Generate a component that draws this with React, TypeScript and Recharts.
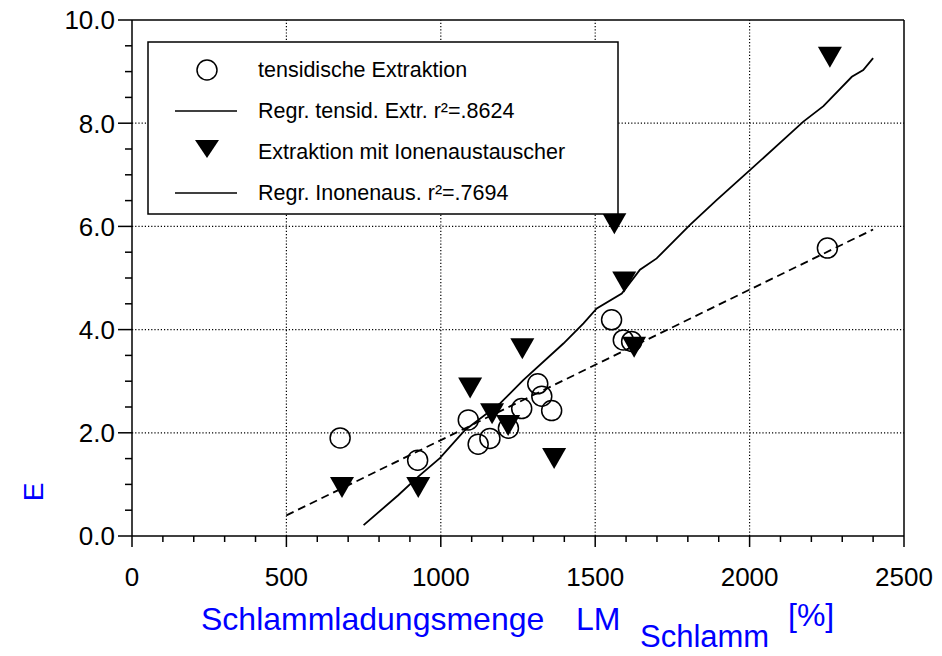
import { ScatterChart, Scatter, XAxis, YAxis, ReferenceLine } from 'recharts';

const FONT = "Arial, 'Liberation Sans', sans-serif";

// tensidische Extraktion (circles)
const tensX = [674, 925, 1089, 1121, 1159, 1219, 1262, 1314, 1327, 1359, 1553, 1591, 1618, 2252];
const tensY = [1.9, 1.47, 2.25, 1.78, 1.89, 2.09, 2.47, 2.95, 2.71, 2.43, 4.19, 3.8, 3.77, 5.58];

// Extraktion mit Ionenaustauscher (triangles)
const ionX = [680, 927, 1095, 1166, 1218, 1264, 1367, 1562, 1594, 1626, 2260];
const ionY = [0.95, 0.95, 2.88, 2.38, 2.15, 3.64, 1.51, 6.06, 4.93, 3.67, 9.29];

// regression curves
const tensRegX = [500, 2400];
const tensRegY = [0.4, 5.94];
const ionRegX = [750, 862, 927, 997, 1078, 1192, 1267, 1397, 1462, 1505, 1586, 1645, 1699, 1807, 1893, 2001, 2174, 2239, 2331, 2368, 2400];
const ionRegY = [0.21, 0.79, 1.15, 1.51, 2.05, 2.57, 3.02, 3.73, 4.12, 4.41, 4.7, 5.16, 5.38, 6.03, 6.51, 7.09, 8.03, 8.33, 8.9, 9.03, 9.26];

// axes
const xTicks = [0, 100, 200, 300, 400, 500, 600, 700, 800, 900, 1000, 1100, 1200, 1300, 1400, 1500, 1600, 1700, 1800, 1900, 2000, 2100, 2200, 2300, 2400, 2500];
const yTicks = [0, 0.5, 1, 1.5, 2, 2.5, 3, 3.5, 4, 4.5, 5, 5.5, 6, 6.5, 7, 7.5, 8, 8.5, 9, 9.5, 10];
const xGrid = [500, 1000, 1500, 2000];
const yGrid = [2, 4, 6, 8];

const toPoints = (xs: number[], ys: number[]) => xs.map((x, i) => ({ x, y: ys[i] }));

const tensData = toPoints(tensX, tensY);
const ionData = toPoints(ionX, ionY);
const tensReg = toPoints(tensRegX, tensRegY);
const ionReg = toPoints(ionRegX, ionRegY);

const XTick = ({ x, y, payload }: any) => {
  const v = payload.value;
  const major = v % 500 === 0;
  return (
    <g>
      <line x1={x} y1={y} x2={x} y2={y + (major ? 11 : 6)} stroke="#000" strokeWidth={1.5} />
      {major && (
        <text x={x} y={y + 49.5} textAnchor="middle" fontSize={26} fontFamily={FONT} fill="#000">
          {v}
        </text>
      )}
    </g>
  );
};

const YTick = ({ x, y, payload }: any) => {
  const v = payload.value;
  const major = v % 2 === 0;
  return (
    <g>
      <line x1={x} y1={y} x2={x - (major ? 14 : 7)} y2={y} stroke="#000" strokeWidth={1.5} />
      {major && (
        <text x={x - 17} y={y} dy="0.36em" textAnchor="end" fontSize={26} fontFamily={FONT} fill="#000">
          {v.toFixed(1)}
        </text>
      )}
    </g>
  );
};

const Triangle = ({ cx, cy }: any) => (
  <polygon points={`${cx - 12},${cy - 10} ${cx + 12},${cy - 10} ${cx},${cy + 11}`} fill="#000" />
);

const Ring = ({ cx, cy }: any) => (
  <circle cx={cx} cy={cy} r={10} fill="none" stroke="#000" strokeWidth={1.5} />
);

const NoShape = () => <g />;

export default function App() {
  return (
    <div style={{ position: 'absolute', left: 0, top: 0, width: 942, height: 656, background: '#fff', fontFamily: FONT }}>
      <ScatterChart width={942} height={656} margin={{ top: 20, right: 38, left: 0, bottom: 0 }}>
        <XAxis
          type="number"
          dataKey="x"
          domain={[0, 2500]}
          ticks={xTicks}
          interval={0}
          height={120}
          tickSize={0}
          tickMargin={0}
          tickLine={false}
          axisLine={{ stroke: '#000', strokeWidth: 1.5 }}
          tick={<XTick />}
          allowDataOverflow
        />
        <YAxis
          type="number"
          dataKey="y"
          domain={[0, 10]}
          ticks={yTicks}
          interval={0}
          width={132}
          tickSize={0}
          tickMargin={0}
          tickLine={false}
          axisLine={{ stroke: '#000', strokeWidth: 1.5 }}
          tick={<YTick />}
          allowDataOverflow
        />
        {xGrid.map((v) => (
          <ReferenceLine key={'gx' + v} x={v} stroke="#000" strokeWidth={1.2} strokeDasharray="1.2 2" />
        ))}
        {yGrid.map((v) => (
          <ReferenceLine key={'gy' + v} y={v} stroke="#000" strokeWidth={1.2} strokeDasharray="1.2 2" />
        ))}
        <ReferenceLine y={10} stroke="#000" strokeWidth={1.5} />
        <ReferenceLine x={2500} stroke="#000" strokeWidth={1.5} />
        <Scatter
          data={tensReg}
          shape={NoShape}
          line={{ stroke: '#000', strokeWidth: 1.8, strokeDasharray: '8 5' }}
          isAnimationActive={false}
        />
        <Scatter
          data={ionReg}
          shape={NoShape}
          line={{ stroke: '#000', strokeWidth: 1.8 }}
          isAnimationActive={false}
        />
        <Scatter data={tensData} shape={Ring} isAnimationActive={false} />
        <Scatter data={ionData} shape={Triangle} isAnimationActive={false} />
      </ScatterChart>

      <svg width={942} height={656} style={{ position: 'absolute', left: 0, top: 0, pointerEvents: 'none' }}>
        <rect x={148} y={42} width={470} height={172} fill="#fff" stroke="#000" strokeWidth={1.5} />
        <circle cx={207} cy={70} r={10} fill="none" stroke="#000" strokeWidth={1.5} />
        <line x1={175} y1={111} x2={237} y2={111} stroke="#000" strokeWidth={1.5} />
        <polygon points="195,140 219,140 207,158" fill="#000" />
        <line x1={175} y1={193} x2={237} y2={193} stroke="#000" strokeWidth={1.5} />
        <g fontSize={21.5} fontFamily={FONT} fill="#000">
          <text x={258} y={77}>tensidische Extraktion</text>
          <text x={258} y={118}>Regr. tensid. Extr. r²=.8624</text>
          <text x={258} y={159}>Extraktion mit Ionenaustauscher</text>
          <text x={258} y={200}>Regr. Inonenaus. r²=.7694</text>
        </g>
        <g fontFamily={FONT} fill="#0000ff" fontSize={32}>
          <text x={201} y={630}>Schlammladungsmenge</text>
          <text x={576} y={630}>LM</text>
          <text x={640} y={647} fontSize={31}>Schlamm</text>
          <text x={788} y={626}>[%]</text>
          <text transform="translate(33,492) rotate(-90)" textAnchor="middle" dy="0.36em" fontSize={28}>
            E
          </text>
        </g>
      </svg>
    </div>
  );
}
